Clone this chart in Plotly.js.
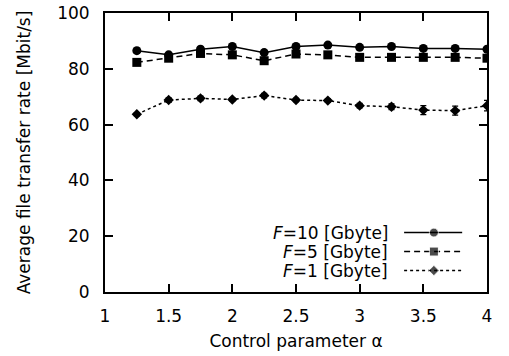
<!DOCTYPE html>
<html>
<head>
<meta charset="utf-8">
<script src="https://cdn.plot.ly/plotly-3.0.1.min.js"></script>
<style>html,body{margin:0;padding:0;background:#fff;}#chart{width:509px;height:356px;}</style>
</head>
<body>
<div id="chart"></div>
<script>
// ---- data ----
const alpha = [1.25, 1.5, 1.75, 2, 2.25, 2.5, 2.75, 3, 3.25, 3.5, 3.75, 4];
const rateF10 = [86.5, 85.0, 87.0, 88.0, 85.8, 88.0, 88.5, 87.7, 88.0, 87.3, 87.3, 87.0];
const errF10  = [0.8, 0.6, 0.8, 0.8, 0.8, 0.7, 0.6, 0.7, 0.7, 0.8, 0.8, 0.9];
const rateF5  = [82.3, 83.8, 85.5, 85.0, 82.9, 85.3, 85.0, 84.1, 84.1, 84.1, 84.1, 83.8];
const errF5   = [0.8, 0.7, 0.8, 0.8, 0.8, 0.7, 0.6, 0.7, 0.8, 0.9, 0.9, 1.0];
const rateF1  = [63.7, 68.8, 69.4, 69.0, 70.4, 68.8, 68.6, 66.8, 66.4, 65.2, 65.0, 66.8];
const errF1   = [0.6, 0.8, 0.8, 0.6, 0.8, 0.6, 0.6, 0.8, 1.0, 1.6, 1.6, 1.9];
const seriesNames = ['<i>F</i>=10 [Gbyte]', '<i>F</i>=5 [Gbyte]', '<i>F</i>=1 [Gbyte]'];
const xTickVals = [1, 1.5, 2, 2.5, 3, 3.5, 4];
const yTickVals = [0, 20, 40, 60, 80, 100];

// ---- styles ----
const FONT = 'DejaVu Sans, Liberation Sans, Arial, sans-serif';
const styles = [
  {dash: 'solid', symbol: 'circle', size: 9},
  {dash: '6px,4px', symbol: 'square', size: 9},
  {dash: '3px,3px', symbol: 'diamond', size: 8}
];
const values = [rateF10, rateF5, rateF1];
const errs = [errF10, errF5, errF1];

const traces = values.map((v, i) => ({
  type: 'scatter', mode: 'lines+markers', x: alpha, y: v, name: seriesNames[i],
  showlegend: false,
  line: {color: '#000', width: 1.5, dash: styles[i].dash},
  marker: {color: '#000', symbol: styles[i].symbol, size: styles[i].size},
  error_y: {type: 'data', array: errs[i], visible: true, color: '#000', thickness: 1.2, width: 3}
}));

// custom gnuplot-style legend (text right, sample left) in overlay axes [0,1]
const legRowsY = [0.213, 0.145, 0.077];
const legSample = [0.783, 0.861, 0.935];
const annotations = [];
seriesNames.forEach((n, i) => {
  traces.push({
    type: 'scatter', mode: 'lines+markers', xaxis: 'x2', yaxis: 'y2',
    x: legSample, y: [legRowsY[i], legRowsY[i], legRowsY[i]], showlegend: false, hoverinfo: 'skip',
    line: {color: '#000', width: 1.5, dash: styles[i].dash},
    marker: {color: '#000', symbol: styles[i].symbol, size: [0, styles[i].size, 0]}
  });
  annotations.push({
    xref: 'paper', yref: 'paper', x: 0.746, y: legRowsY[i], xanchor: 'right', yanchor: 'middle',
    text: n, showarrow: false, font: {family: FONT, size: 17, color: '#000'}
  });
});

const axisCommon = {
  showgrid: false, zeroline: false, showline: true, linecolor: '#000', linewidth: 2,
  mirror: 'ticks', ticks: 'inside', ticklen: 8, tickwidth: 2, tickcolor: '#000',
  tickfont: {family: FONT, size: 17, color: '#000'}
};

const layout = {
  width: 509, height: 356,
  margin: {l: 105, r: 22, t: 13, b: 64},
  paper_bgcolor: '#fff', plot_bgcolor: '#fff',
  font: {family: FONT, size: 17, color: '#000'},
  xaxis: Object.assign({}, axisCommon, {
    range: [1, 4], tickvals: xTickVals, ticklabelstandoff: 8,
    title: {text: 'Control parameter α', font: {family: FONT, size: 17, color: '#000'}, standoff: 10}
  }),
  yaxis: Object.assign({}, axisCommon, {
    range: [0, 100], tickvals: yTickVals, ticklabelstandoff: 10,
    title: {text: 'Average file transfer rate [Mbit/s]', font: {family: FONT, size: 17, color: '#000'}, standoff: 22}
  }),
  xaxis2: {overlaying: 'x', range: [0, 1], visible: false, fixedrange: true},
  yaxis2: {overlaying: 'y', range: [0, 1], visible: false, fixedrange: true},
  annotations: annotations,
  showlegend: false
};

Plotly.newPlot('chart', traces, layout, {staticPlot: true, displayModeBar: false});
</script>
</body>
</html>
